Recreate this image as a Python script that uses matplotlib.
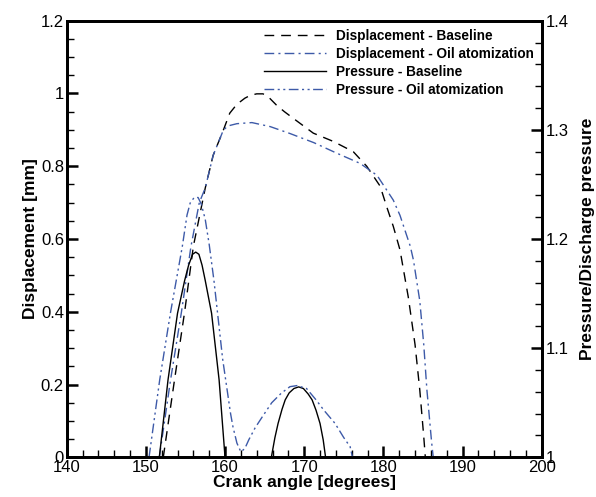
import numpy as np
import matplotlib
matplotlib.use('Agg')
import matplotlib.pyplot as plt
from matplotlib.ticker import MultipleLocator

plt.rcParams['font.family'] = ['Liberation Sans', 'DejaVu Sans']

# displacement, baseline
disp_base_x = [152.2, 153.6, 154.9, 156.0, 157.5, 158.5, 159.8, 160.6, 161.3, 161.9,
               162.5, 163.2, 164.0, 164.8, 165.5, 166.5, 167.5, 168.6, 171.15, 173.7,
               176.2, 177.9, 179.6, 180.4, 181.25, 182.1, 183.15, 184.0, 184.6, 185.1,
               185.3]
disp_base_y = [0, 0.21, 0.40, 0.58, 0.74, 0.83, 0.90, 0.946, 0.965, 0.977,
               0.987, 0.995, 0.999, 0.999, 0.99, 0.968, 0.95, 0.932, 0.891, 0.868,
               0.84, 0.80, 0.745, 0.69, 0.635, 0.57, 0.44, 0.31, 0.185, 0.057,
               0]

# displacement, oil atomization
disp_oil_x = [151.7, 153.1, 154.5, 155.7, 156.75, 157.5, 158.5, 159.8, 160.4, 161.5,
              163.4, 165.7, 168.2, 171.2, 174.1, 177.05, 179.2, 181.25, 182.1, 183.4,
              183.8, 184.6, 185.1, 185.5, 186.1, 186.3]
disp_oil_y = [0, 0.21, 0.40, 0.58, 0.70, 0.74, 0.83, 0.90, 0.911, 0.917,
              0.920, 0.909, 0.890, 0.865, 0.836, 0.808, 0.775, 0.707, 0.665, 0.58,
              0.542, 0.43, 0.31, 0.185, 0.04, 0]

# pressure ratio, baseline (two humps)
press_base_x1 = [151.7, 152.8, 154.0, 154.9, 155.4, 155.9, 156.3, 156.7, 157.1, 157.5,
                 158.3, 159.25, 160.0]
press_base_y1 = [1.0, 1.071, 1.132, 1.162, 1.176, 1.186, 1.188, 1.186, 1.176, 1.162,
                 1.132, 1.071, 1.0]
press_base_x2 = [165.85, 166.3, 166.7, 167.2, 167.6, 168.1, 168.7, 169.3, 169.9, 170.5,
                 171.0, 171.5, 172.0, 172.4, 172.7]
press_base_y2 = [1.0, 1.018, 1.031, 1.044, 1.0526, 1.059, 1.063, 1.0645, 1.063, 1.058,
                 1.0526, 1.043, 1.031, 1.016, 1.0]

# pressure ratio, oil atomization
press_oil_x = [150.4, 151.75, 153.1, 154.6, 155.2, 155.6, 156.1, 156.6, 157.0, 157.5,
               158.0, 158.6, 159.7, 160.7, 161.0, 161.5, 162.0, 162.5, 163.0, 163.8,
               164.7, 165.9, 167.1, 168.2, 169.1, 170.3, 171.5, 172.5, 173.9, 175.0,
               175.8, 176.1]
press_oil_y = [1.0, 1.071, 1.132, 1.193, 1.222, 1.233, 1.238, 1.238, 1.232, 1.218,
               1.195, 1.162, 1.09, 1.040, 1.028, 1.013, 1.005, 1.008, 1.016, 1.027,
               1.037, 1.050, 1.0587, 1.0647, 1.0657, 1.063, 1.0526, 1.043, 1.031, 1.018,
               1.0097, 1.0]

blue = '#3d5aa8'

fig = plt.figure(figsize=(5.96, 4.97), dpi=100)
ax = fig.add_axes([0.1119, 0.0799, 0.797, 0.8784])
ax2 = ax.twinx()

l1, = ax.plot(disp_base_x, disp_base_y, color='black', lw=1.0, ls=(0, (7, 5)),
              label='Displacement - Baseline')
l2, = ax.plot(disp_oil_x, disp_oil_y, color=blue, lw=1.0, ls=(0, (7, 3, 1.5, 3)),
              label='Displacement - Oil atomization')
pb_x = press_base_x1 + [np.nan] + press_base_x2
pb_y = press_base_y1 + [np.nan] + press_base_y2
l3, = ax2.plot(pb_x, pb_y, color='black', lw=1.0, label='Pressure - Baseline')
l4, = ax2.plot(press_oil_x, press_oil_y, color=blue, lw=1.0,
               ls=(0, (7, 2.5, 1.5, 2.5, 1.5, 2.5)), label='Pressure - Oil atomization')

ax.set_xlim(140, 200)
ax.set_ylim(0, 1.2)
ax2.set_ylim(1, 1.4)

ax.xaxis.set_minor_locator(MultipleLocator(2))
ax.yaxis.set_minor_locator(MultipleLocator(0.05))
ax2.yaxis.set_minor_locator(MultipleLocator(0.02))

ax.set_xticks([140, 150, 160, 170, 180, 190, 200])
ax.set_xticklabels(['140', '150', '160', '170', '180', '190', '200'])
ax.set_yticks([0, 0.2, 0.4, 0.6, 0.8, 1.0, 1.2])
ax.set_yticklabels(['0', '0.2', '0.4', '0.6', '0.8', '1', '1.2'])
ax2.set_yticks([1.0, 1.1, 1.2, 1.3, 1.4])
ax2.set_yticklabels(['1', '1.1', '1.2', '1.3', '1.4'])

for a in (ax, ax2):
    for s in a.spines.values():
        s.set_linewidth(2.0)
ax.tick_params(axis='both', which='major', direction='in', length=8, width=1.8,
               labelsize=12, pad=2, top=False, right=False)
ax.tick_params(axis='both', which='minor', direction='in', length=5, width=1.0,
               top=False, right=False)
ax2.tick_params(axis='y', which='major', direction='in', length=8, width=1.8,
                labelsize=12, pad=3)
ax2.tick_params(axis='y', which='minor', direction='in', length=5, width=1.0)

ax.set_xlabel('Crank angle [degrees]', fontsize=12.5, fontweight='bold', labelpad=0)
ax.set_ylabel('Displacement [mm]', fontsize=12.5, fontweight='bold', labelpad=2)
ax2.set_ylabel('Pressure/Discharge pressure', fontsize=12.5, fontweight='bold', labelpad=8)

leg = ax.legend(handles=[l1, l2, l3, l4], loc='upper right', frameon=False,
                prop={'size': 9.8, 'weight': 'bold'}, handlelength=4.6,
                handletextpad=0.7, labelspacing=0.3, borderaxespad=0.2)

fig.savefig('out.png', dpi=100)
